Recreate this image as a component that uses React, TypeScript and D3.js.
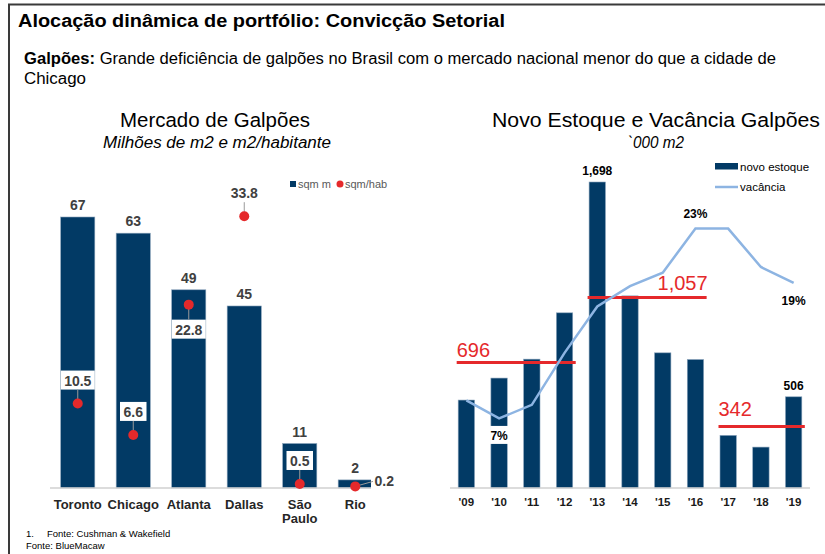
import React from "react"
import * as d3 from "d3"

// left chart: warehouse market by city
const cities = ["Toronto", "Chicago", "Atlanta", "Dallas", "São Paulo", "Rio"]
const sqmM = [67, 63, 49, 45, 11, 2]
const sqmHab = [10.5, 6.6, 22.8, 33.8, 0.5, 0.2]
// where each sqm/hab label sits relative to its dot
const habLabelPos = ["above", "above", "below", "above", "above", "right"]

// right chart: new stock and vacancy
const years = ["'09", "'10", "'11", "'12", "'13", "'14", "'15", "'16", "'17", "'18", "'19"]
const novoEstoque = [488, 610, 715, 972, 1698, 1066, 750, 713, 292, 227, 506]
const vacancia = [8.2, 6.6, 7.8, 12.4, 16.5, 18.3, 19.5, 23.4, 23.4, 20.0, 18.6]
const stockLabelled = ["'13", "'19"]
const vacLabelled = [
  { year: "'10", pos: "below", box: true },
  { year: "'16", pos: "above", box: false },
  { year: "'19", pos: "below", box: false },
]
const periods = [
  { from: 0, to: 3, labelSide: "left", labelDy: -6 },
  { from: 4, to: 7, labelSide: "right", labelDy: -8 },
  { from: 8, to: 10, labelSide: "left", labelDy: -10 },
]

const NAVY = "#023a65"
const RED = "#e5292b"
const LIGHT = "#8db4e2"
const FONT = "'Liberation Sans', Arial, sans-serif"

export default function App() {
  // left scales
  const xL = d3.scaleBand<string>().domain(cities).range([50, 383]).paddingInner(0.385).paddingOuter(0.1925)
  const yL = d3.scaleLinear().domain([0, 67]).range([488, 217])
  const yL2 = d3.scaleLinear().domain([0, 33.7]).range([488, 217])

  // right scales
  const xR = d3.scaleBand<string>().domain(years).range([450, 810]).paddingInner(0.5).paddingOuter(0.25)
  const yR = d3.scaleLinear().domain([0, 1698]).range([488, 182])
  const yV = d3.scaleLinear().domain([0, 30]).range([493, 154])
  const bwL = xL.bandwidth()
  const bwR = xR.bandwidth()
  const fmtK = d3.format(",.0f")

  const vacLine = d3.line<number>()
    .x((_, i) => xR(years[i])! + bwR / 2)
    .y(d => yV(d))

  const textW = (s: string) => s.length * 7.5 + 4

  return (
    <svg width={825} height={554} style={{ position: "absolute", left: 0, top: 0, background: "#fff" }} fontFamily={FONT}>
      <rect width={825} height={554} fill="#fff" />
      <path d="M825,4.5H9V554" fill="none" stroke="#3a3a3a" strokeWidth={2} />

      <text x={18} y={27} fontSize={18} fontWeight="bold" fill="#000" textLength={487} lengthAdjust="spacingAndGlyphs">Alocação dinâmica de portfólio: Convicção Setorial</text>
      <text x={24} y={64} fontSize={16} fill="#000" textLength={752} lengthAdjust="spacingAndGlyphs">
        <tspan fontWeight="bold">Galpões:</tspan> Grande deficiência de galpões no Brasil com o mercado nacional menor do que a cidade de
      </text>
      <text x={24} y={84} fontSize={16} fill="#000" textLength={62} lengthAdjust="spacingAndGlyphs">Chicago</text>

      {/* left chart */}
      <text x={215} y={127} fontSize={20.5} textAnchor="middle" textLength={190} lengthAdjust="spacingAndGlyphs">Mercado de Galpões</text>
      <text x={217} y={148} fontSize={16} fontStyle="italic" textAnchor="middle" textLength={228} lengthAdjust="spacingAndGlyphs">Milhões de m2 e m2/habitante</text>

      <g>
        <rect x={290} y={181} width={6} height={6} fill={NAVY} />
        <text x={298} y={188} fontSize={11} fill="#595959">sqm m</text>
        <circle cx={340} cy={184} r={3.5} fill={RED} />
        <text x={345} y={188} fontSize={11} fill="#595959">sqm/hab</text>
      </g>

      {cities.map((c, i) => (
        <g key={c}>
          <rect x={xL(c)} y={yL(sqmM[i])} width={bwL} height={yL(0) - yL(sqmM[i])} fill={NAVY} stroke="#8aa3bb" strokeWidth={0.6} />
          <text x={xL(c)! + bwL / 2} y={yL(sqmM[i]) - 7} fontSize={14} fontWeight="bold" fill="#404040" textAnchor="middle">{sqmM[i]}</text>
        </g>
      ))}
      <line x1={50} x2={383} y1={488} y2={488} stroke="#d0d0d0" strokeWidth={1.5} />

      {cities.map((c, i) => {
        const cx = xL(c)! + bwL / 2
        const cy = yL2(sqmHab[i])
        const label = String(sqmHab[i])
        const w = textW(label)
        const pos = habLabelPos[i]
        let lx = cx, ly = cy - 23
        if (pos === "below") ly = cy + 25
        if (pos === "right") { lx = cx + 29; ly = cy - 5 }
        const edgeY = pos === "above" ? ly + 9 : pos === "below" ? ly - 10 : ly
        const edgeX = pos === "right" ? lx - w / 2 + 2 : lx
        return (
          <g key={c + "hab"}>
            <rect x={lx - w / 2} y={ly - 10} width={w} height={19} fill="#fff" />
            <line x1={edgeX} y1={edgeY} x2={cx} y2={cy} stroke="#9a9a9a" strokeWidth={1} />
            <circle cx={cx} cy={cy} r={5} fill={RED} />
            <text x={lx} y={ly + 5} fontSize={14} fontWeight="bold" fill="#404040" textAnchor="middle">{label}</text>
          </g>
        )
      })}

      {cities.map(c => {
        const cx = xL(c)! + bwL / 2
        const parts = c === "São Paulo" ? ["São", "Paulo"] : [c]
        return (
          <text key={c + "x"} x={cx} y={509} fontSize={13} fontWeight="bold" fill="#262626" textAnchor="middle">
            {parts.map((p, k) => <tspan key={p} x={cx} dy={k === 0 ? 0 : 13.5}>{p}</tspan>)}
          </text>
        )
      })}

      <text x={26} y={537} fontSize={9.5} fill="#000">1.</text>
      <text x={47} y={537} fontSize={9.5} fill="#000">Fonte: Cushman &amp; Wakefield</text>
      <text x={26} y={549} fontSize={9.5} fill="#000">Fonte: BlueMacaw</text>

      {/* right chart */}
      <text x={656} y={127} fontSize={20.5} textAnchor="middle" textLength={328} lengthAdjust="spacingAndGlyphs">Novo Estoque e Vacância Galpões</text>
      <text x={656} y={148} fontSize={16} fontStyle="italic" textAnchor="middle" textLength={56} lengthAdjust="spacingAndGlyphs">`000 m2</text>

      <g>
        <rect x={715} y={163} width={23} height={6.5} fill={NAVY} />
        <text x={740} y={170.5} fontSize={11.5} fill="#000">novo estoque</text>
        <line x1={715} x2={738} y1={187} y2={187} stroke={LIGHT} strokeWidth={2.5} />
        <text x={740} y={191} fontSize={11.5} fill="#000">vacância</text>
      </g>

      {years.map((y, i) => (
        <g key={y}>
          <rect x={xR(y)} y={yR(novoEstoque[i])} width={bwR} height={yR(0) - yR(novoEstoque[i])} fill={NAVY} stroke="#8aa3bb" strokeWidth={0.6} />
          {stockLabelled.includes(y) && (
            <text x={xR(y)! + bwR / 2} y={yR(novoEstoque[i]) - 7} fontSize={12} fontWeight="bold" fill="#000" textAnchor="middle">{fmtK(novoEstoque[i])}</text>
          )}
          <text x={xR(y)! + bwR / 2} y={506} fontSize={11.5} fontWeight="bold" fill="#1a1a1a" textAnchor="middle">{y}</text>
        </g>
      ))}
      <line x1={450} x2={810} y1={488} y2={488} stroke="#d0d0d0" strokeWidth={1.5} />

      {periods.map(p => {
        const avg = d3.mean(novoEstoque.slice(p.from, p.to + 1))!
        const x1 = xR(years[p.from])! - 1.5
        const x2 = xR(years[p.to])! + bwR + 3
        const ly = yR(avg)
        return (
          <g key={p.from}>
            <line x1={x1} x2={x2} y1={ly} y2={ly} stroke={RED} strokeWidth={3} />
            <text x={p.labelSide === "left" ? x1 : x2 + 1} y={ly + p.labelDy} fontSize={20} fill={RED}
              textAnchor={p.labelSide === "left" ? "start" : "end"}>{fmtK(avg)}</text>
          </g>
        )
      })}

      <path d={vacLine(vacancia)!} fill="none" stroke={LIGHT} strokeWidth={2.5} />

      {vacLabelled.map(v => {
        const i = years.indexOf(v.year)
        const cx = xR(v.year)! + bwR / 2
        const cy = yV(vacancia[i])
        const ty = v.pos === "above" ? cy - 15 : cy + 17.5
        return (
          <g key={v.year + "v"}>
            {v.box && <rect x={cx - 9} y={ty - 10} width={18} height={18} fill="#fff" />}
            <text x={cx} y={ty + 4.5} fontSize={12} fontWeight="bold" fill="#000" textAnchor="middle">{d3.format(".0f")(vacancia[i])}%</text>
          </g>
        )
      })}
    </svg>
  )
}
